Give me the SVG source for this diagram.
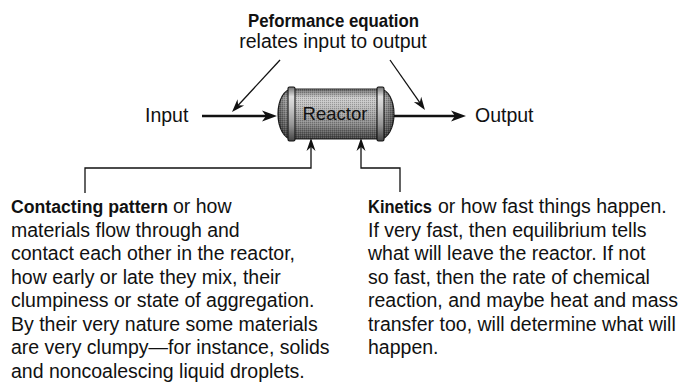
<svg xmlns="http://www.w3.org/2000/svg" width="685" height="384" viewBox="0 0 685 384">
<style>
  text { font-family: "Liberation Sans", Arial, sans-serif; fill: #111; }
  .t { font-size: 19.5px; }
  .b { font-size: 19px; font-weight: bold; }
  .thick { stroke: #111; stroke-width: 2.6; fill: none; }
  .thin { stroke: #111; stroke-width: 1.3; fill: none; }
</style>
<defs>
  <marker id="big" viewBox="-16 -6 17 12" markerWidth="17" markerHeight="12" refX="-8" refY="0" orient="auto" markerUnits="userSpaceOnUse">
    <path d="M0,0 L-15,-5.5 L-11,0 L-15,5.5 Z" fill="#111"/>
  </marker>
  <marker id="sm" viewBox="-14 -5 15 10" markerWidth="15" markerHeight="10" refX="-5" refY="0" orient="auto" markerUnits="userSpaceOnUse">
    <path d="M0,0 L-13,-4.5 L-9,0 L-13,4.5 Z" fill="#111"/>
  </marker>
  <linearGradient id="body" x1="0" y1="0" x2="0" y2="1">
    <stop offset="0" stop-color="#707070"/>
    <stop offset="0.18" stop-color="#e0e0e0"/>
    <stop offset="0.35" stop-color="#cdcdcd"/>
    <stop offset="0.7" stop-color="#959595"/>
    <stop offset="1" stop-color="#444"/>
  </linearGradient>
  <linearGradient id="ends" x1="0" y1="0" x2="1" y2="0">
    <stop offset="0" stop-color="#000" stop-opacity="0.55"/>
    <stop offset="0.12" stop-color="#000" stop-opacity="0.08"/>
    <stop offset="0.88" stop-color="#000" stop-opacity="0.08"/>
    <stop offset="1" stop-color="#000" stop-opacity="0.55"/>
  </linearGradient>
  <pattern id="dots" width="2" height="2" patternUnits="userSpaceOnUse">
    <rect width="1" height="1" fill="#000" fill-opacity="0.22"/>
    <rect x="1" y="1" width="1" height="1" fill="#fff" fill-opacity="0.15"/>
  </pattern>
</defs>

<g id="title">
  <text class="b" x="333.5" y="27" text-anchor="middle" textLength="171" lengthAdjust="spacingAndGlyphs">Peformance equation</text>
  <text class="t" x="333" y="48" text-anchor="middle">relates input to output</text>
</g>

<g id="input">
  <text class="t" x="145" y="122">Input</text>
</g>

<g id="output">
  <text class="t" x="475" y="122">Output</text>
</g>

<g id="reactor">
  <path d="M292,89 H380 A14,25 0 0 1 380,139 H292 A14,25 0 0 1 292,89 Z" fill="url(#body)" stroke="#222" stroke-width="1.2"/>
  <path d="M292,89 H380 A14,25 0 0 1 380,139 H292 A14,25 0 0 1 292,89 Z" fill="url(#ends)"/>
  <path d="M292,89 H380 A14,25 0 0 1 380,139 H292 A14,25 0 0 1 292,89 Z" fill="url(#dots)"/>
  <rect x="288" y="87" width="7" height="54" rx="1.5" fill="url(#body)" stroke="#111" stroke-width="1.1"/>
  <rect x="377" y="87" width="7" height="54" rx="1.5" fill="url(#body)" stroke="#111" stroke-width="1.1"/>
  <text x="335" y="120" text-anchor="middle" style="font-size:18.5px">Reactor</text>
</g>

<g id="contacting">
  <text class="b" x="11" y="213" style="font-size:18px" textLength="157" lengthAdjust="spacingAndGlyphs">Contacting pattern</text>
  <text class="t" x="173" y="213">or how</text>
  <text class="t" x="11" y="236.5">materials flow through and</text>
  <text class="t" x="11" y="260">contact each other in the reactor,</text>
  <text class="t" x="11" y="283.5">how early or late they mix, their</text>
  <text class="t" x="11" y="307">clumpiness or state of aggregation.</text>
  <text class="t" x="11" y="330.5">By their very nature some materials</text>
  <text class="t" x="11" y="354">are very clumpy—for instance, solids</text>
  <text class="t" x="11" y="377.5">and noncoalescing liquid droplets.</text>
</g>

<g id="kinetics">
  <text class="b" x="368" y="213" style="font-size:17.5px" textLength="64" lengthAdjust="spacingAndGlyphs">Kinetics</text>
  <text class="t" x="438" y="213">or how fast things happen.</text>
  <text class="t" x="368" y="236.5">If very fast, then equilibrium tells</text>
  <text class="t" x="368" y="260">what will leave the reactor. If not</text>
  <text class="t" x="368" y="283.5">so fast, then the rate of chemical</text>
  <text class="t" x="368" y="307">reaction, and maybe heat and mass</text>
  <text class="t" x="368" y="330.5">transfer too, will determine what will</text>
  <text class="t" x="368" y="354">happen.</text>
</g>

<g id="connectors">
  <line class="thick" x1="202" y1="116" x2="269" y2="116" marker-end="url(#big)"/>
  <line class="thick" x1="394" y1="116" x2="458" y2="116" marker-end="url(#big)"/>
  <line class="thin" x1="280" y1="60" x2="235.4" y2="108.3" marker-end="url(#sm)"/>
  <line class="thin" x1="390" y1="60" x2="422.1" y2="105.9" marker-end="url(#sm)"/>
  <polyline class="thin" points="85,193 85,168 311,168 311,143" marker-end="url(#sm)"/>
  <polyline class="thin" points="400,192 400,168 361,168 361,143" marker-end="url(#sm)"/>
</g>
</svg>
